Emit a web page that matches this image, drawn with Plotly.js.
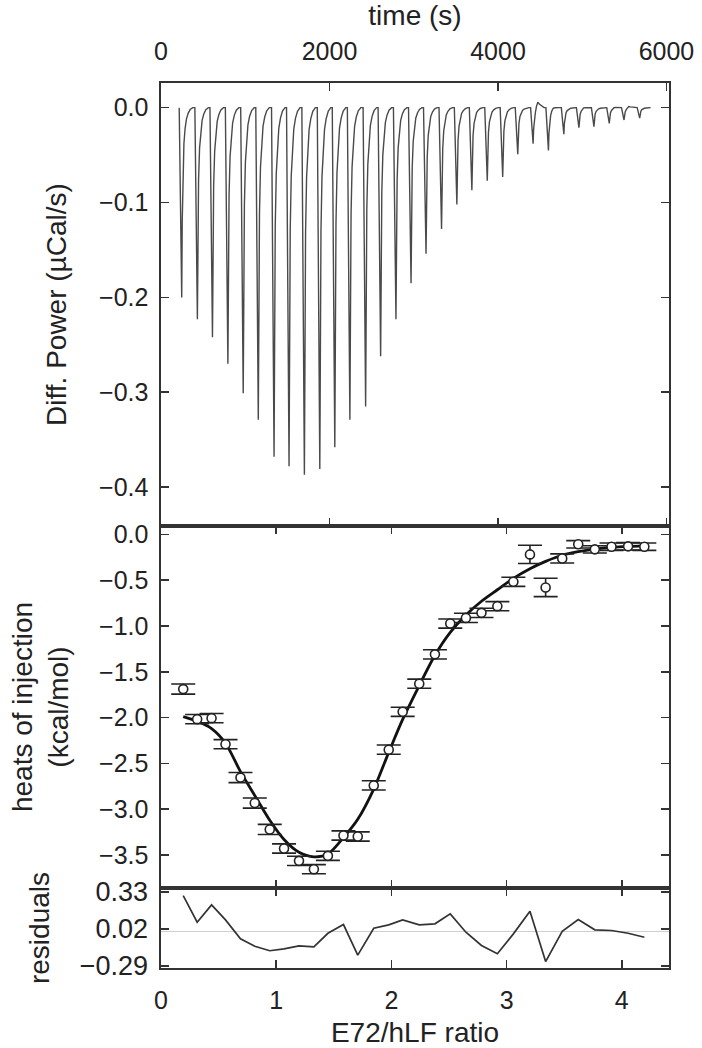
<!DOCTYPE html>
<html>
<head>
<meta charset="utf-8">
<script src="https://cdn.plot.ly/plotly-3.0.1.min.js"></script>
<style>
  body { margin: 0; background: #fff; }
  #myDiv { width: 702px; height: 1048px; }
</style>
</head>
<body>
<div id="myDiv"></div>
<script>
//---------------------- DATA ---------------------------
// raw thermogram: injection times (s) and peak depths (ucal/s)
var injTime = [246, 432, 611, 794, 976, 1155, 1342, 1520, 1702, 1885, 2063, 2242, 2429, 2607, 2789, 2968,
               3146, 3330, 3512, 3690, 3873, 4056, 4235, 4417, 4599, 4782, 4961, 5139, 5321, 5496, 5682];
var injPeak = [-0.200, -0.223, -0.242, -0.270, -0.301, -0.329, -0.368, -0.378, -0.387, -0.381, -0.358,
               -0.329, -0.315, -0.262, -0.223, -0.185, -0.154, -0.128, -0.102, -0.087, -0.077, -0.073,
               -0.049, -0.038, -0.045, -0.028, -0.021, -0.020, -0.0165, -0.013, -0.011];
var injOvershoot = [0, 0, 0, 0, 0, 0, 0, 0, 0, 0, 0, 0, 0, 0, 0, 0,
                    0, 0, 0, 0, 0, 0, 0, 0.008, 0.002, 0, 0.001, 0, 0.001, 0.002, 0];
// shape of one injection peak (seconds from peak, fraction of peak)
var peakDt   = [-30, 0, 6, 14, 26, 40, 56, 76, 100, 130];
var peakFrac = [0, 1, 0.6, 0.34, 0.19, 0.11, 0.06, 0.03, 0.01, 0];
var peakBump = [0, 0, 0, 0, 0.2, 0.7, 1, 0.6, 0.3, 0];

// integrated heats
var ratio = [0.193, 0.314, 0.439, 0.560, 0.690, 0.814, 0.944, 1.068, 1.198, 1.327, 1.449, 1.584, 1.708,
             1.847, 1.977, 2.098, 2.242, 2.378, 2.511, 2.647, 2.782, 2.920, 3.059, 3.203, 3.339, 3.483,
             3.622, 3.766, 3.911, 4.055, 4.196];
var heat = [-1.689, -2.017, -2.006, -2.291, -2.655, -2.933, -3.221, -3.429, -3.564, -3.655, -3.509,
            -3.287, -3.298, -2.740, -2.350, -1.937, -1.630, -1.310, -0.974, -0.912, -0.857, -0.784,
            -0.518, -0.219, -0.580, -0.263, -0.109, -0.164, -0.135, -0.131, -0.135];
var heatErr = [0.055, 0.05, 0.05, 0.05, 0.055, 0.055, 0.055, 0.05, 0.05, 0.05, 0.05, 0.05, 0.05, 0.05,
               0.05, 0.05, 0.05, 0.05, 0.05, 0.05, 0.05, 0.05, 0.05, 0.1, 0.1, 0.05, 0.04, 0.04, 0.04,
               0.04, 0.04];
var fit = [-1.99, -2.04, -2.12, -2.28, -2.59, -2.85, -3.12, -3.33, -3.47, -3.52, -3.49, -3.31, -3.11,
           -2.78, -2.38, -2.02, -1.65, -1.32, -1.07, -0.88, -0.73, -0.605, -0.48, -0.375, -0.295,
           -0.228, -0.19, -0.162, -0.143, -0.132, -0.126];
var resid = [0.298, 0.075, 0.22, 0.095, -0.063, -0.125, -0.163, -0.147, -0.122, -0.13, -0.017, 0.056,
             -0.2, 0.025, 0.053, 0.095, 0.053, 0.062, 0.145, -0.008, -0.119, -0.188, -0.022, 0.167,
             -0.253, 0.0, 0.098, 0.012, 0.006, -0.017, -0.05];

var timeTicks = [0, 2000, 4000, 6000];
var powerTicks = [0, -0.1, -0.2, -0.3, -0.4];
var heatTicks = [0, -0.5, -1, -1.5, -2, -2.5, -3, -3.5];
var ratioTicks = [0, 1, 2, 3, 4];
var residTicks = [-0.29, 0.02, 0.33];

//---------------------- THERMOGRAM TRACE ---------------------------
var tx = [];
var ty = [];
for (var i = 0; i < injTime.length; i++) {
  for (var k = 0; k < peakDt.length; k++) {
    tx.push(injTime[i] + peakDt[k]);
    ty.push(injPeak[i] * peakFrac[k] + injOvershoot[i] * peakBump[k]);
  }
}

//---------------------- STYLE ---------------------------
var fontFam = 'Liberation Sans, Arial, sans-serif';
var lineCol = '#333';
var tickFont = {family: fontFam, size: 25, color: '#222'};
var residTickFont = {family: fontFam, size: 27, color: '#222'};
var titleFont = {family: fontFam, size: 28, color: '#222'};

function ax(extra) {
  var a = {
    showline: true,
    linecolor: lineCol,
    linewidth: 1.6,
    mirror: 'ticks',
    ticks: 'inside',
    ticklen: 8,
    tickwidth: 1.6,
    tickcolor: lineCol,
    showgrid: false,
    zeroline: false,
    tickfont: tickFont,
    ticklabelstandoff: 6
  };
  for (var key in extra) a[key] = extra[key];
  return a;
}

//---------------------- PLOT ---------------------------
var data = [{
    x: tx,
    y: ty,
    xaxis: 'x',
    yaxis: 'y',
    type: 'scatter',
    mode: 'lines',
    line: {color: '#4a4a4a', width: 1.4},
    hoverinfo: 'skip'
  }, {
    x: ratio,
    y: fit,
    xaxis: 'x2',
    yaxis: 'y2',
    type: 'scatter',
    mode: 'lines',
    line: {color: '#111', width: 2.8, shape: 'spline', smoothing: 0.8}
  }, {
    x: ratio,
    y: heat,
    xaxis: 'x2',
    yaxis: 'y2',
    type: 'scatter',
    mode: 'markers',
    marker: {symbol: 'circle', size: 9, color: '#fff', line: {color: '#222', width: 1.6}},
    error_y: {type: 'data', array: heatErr, visible: true, color: '#222', thickness: 1.6, width: 12}
  }, {
    x: ratio,
    y: resid,
    xaxis: 'x3',
    yaxis: 'y3',
    type: 'scatter',
    mode: 'lines',
    line: {color: '#333', width: 1.7}
  }];

var layout = {
  width: 702,
  height: 1048,
  margin: {l: 161, r: 33, t: 83, b: 80},
  paper_bgcolor: '#fff',
  plot_bgcolor: '#fff',
  showlegend: false,
  hovermode: false,
  xaxis: ax({
    anchor: 'y', side: 'top', range: [0, 6030], tickvals: timeTicks, ticklabelstandoff: 11,
    title: {text: 'time (s)', font: titleFont, standoff: 3}
  }),
  yaxis: ax({
    domain: [0.4994, 1], anchor: 'x', range: [-0.441, 0.026], tickvals: powerTicks, tickformat: '.1f',
    title: {text: 'Diff. Power (µCal/s)', font: titleFont, standoff: 24}
  }),
  xaxis2: ax({
    anchor: 'y2', range: [0, 4.41], tickvals: ratioTicks, showticklabels: false
  }),
  yaxis2: ax({
    domain: [0.0904, 0.4994], anchor: 'x2', range: [-3.86, 0.0906], tickvals: heatTicks, tickformat: '.1f',
    title: {text: 'heats of injection<br>(kcal/mol)', font: titleFont, standoff: 22}
  }),
  xaxis3: ax({
    anchor: 'y3', range: [0, 4.41], tickvals: ratioTicks, ticklabelstandoff: 9,
    title: {text: 'E72/hLF ratio', font: titleFont, standoff: 10}
  }),
  yaxis3: ax({
    domain: [0, 0.0904], anchor: 'x3', range: [-0.307, 0.361], tickvals: residTicks, tickformat: '.2f',
    tickfont: residTickFont,
    zeroline: true, zerolinecolor: '#cfcfcf', zerolinewidth: 1,
    title: {text: 'residuals', font: titleFont, standoff: 22}
  })
};

Plotly.newPlot('myDiv', data, layout, {staticPlot: true});
</script>
</body>
</html>
